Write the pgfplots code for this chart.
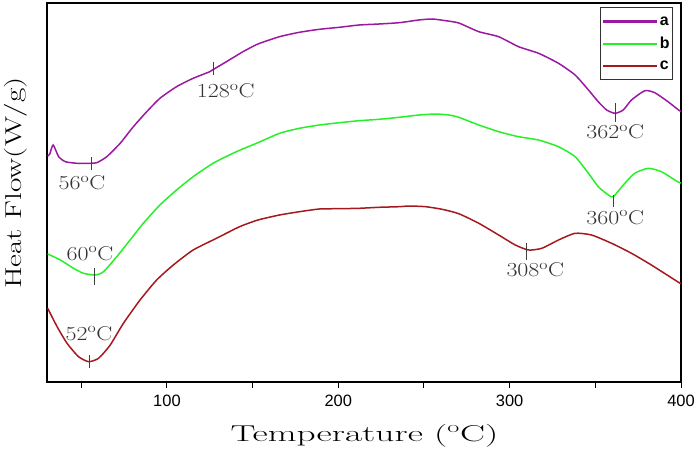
\documentclass[border=0pt]{standalone}
\usepackage{pgfplots}
\pgfplotsset{compat=1.18}
\usepackage{fontspec}
\newfontfamily\arial{Liberation Sans}
\definecolor{ca}{RGB}{155,25,160}
\definecolor{cb}{RGB}{40,240,40}
\definecolor{cc}{RGB}{165,25,30}
\newcommand{\lab}[1]{\scalebox{1.2}[1]{\fontsize{20}{20}\selectfont #1\textsuperscript{o}C}}
\begin{document}
\begin{tikzpicture}
\path[use as bounding box] (-47bp,-71bp) rectangle (653bp,382bp);
\begin{axis}[
  at={(0,0)}, anchor=south west,
  scale only axis, width=634bp, height=379bp,
  clip mode=individual,
  xmin=30, xmax=400, ymin=0, ymax=379,
  xtick={100,200,300,400},
  minor xtick={50,150,250,350},
  ytick=\empty,
  tick align=outside, xtick pos=bottom,
  major tick length=6bp, minor tick length=6bp,
  every tick/.style={black, line width=1bp},
  axis line style={line width=1.2bp},
  /pgf/number format/assume math mode=true,
  xticklabel style={font=\arial\fontsize{16.5}{16.5}\selectfont, yshift=-3bp},
  legend style={at={(0.9874,0.9894)}, anchor=north east,
    draw=black!80, line width=0.9bp, font=\arial\bfseries\fontsize{16}{16}\selectfont,
    inner xsep=1bp, inner ysep=7bp, row sep=6.5bp, column sep=0bp,
    nodes={inner sep=2bp}, cells={anchor=west}},
  legend image code/.code={\draw[sharp plot, #1] (0bp,0bp) -- (54bp,0bp);},
  legend image post style={line width=2bp},
  annot/.style={black!75, line width=0.9bp, forget plot},
]
\addlegendimage{ca}
\addlegendentry{a}
\addlegendimage{cb}
\addlegendentry{b}
\addlegendimage{cc}
\addlegendentry{c}
\addplot[ca, line width=1.5bp, smooth, tension=0.35, forget plot] coordinates {
(30.4,226)(31.6,228)(33.6,237)(36.8,225.3)(40.7,220.3)(47.5,218.7)(55.2,218.7)(59.1,219.3)
(64.9,225.3)(72.7,238.7)(80.4,255.3)(88.2,270.3)(95.9,283.7)(105.6,295.3)(115.3,303.7)
(125,310.3)(127,312.5)(134.7,320.3)(144.4,330.3)(153.1,338)(165.7,345.3)(177.3,349.7)
(189,352.7)(200.6,354.7)(212.2,357)(223.8,358)(235.5,359.3)(247,362)(254.8,363)
(262.6,361.3)(270.3,359)(282,350.3)(293.6,345.3)(305.2,335.3)(316.9,328.7)(328.5,318.7)
(338.2,307)(346,292)(351.7,280.3)(356.6,272)(361.5,268.7)(366.3,272)(371.1,282)
(378.9,291.3)(384.7,289.3)(392.4,280.3)(398.6,272)(400,270.5)
};
\addplot[cb, line width=1.5bp, smooth, tension=0.35, forget plot] coordinates {
(30.4,128)(37.8,122)(45.5,113.7)(51.3,108.7)(58.1,107)(63,110.3)(70.7,125.3)(78.5,142)
(86.2,158.7)(95.9,177)(105.6,192)(115.3,205.3)(126.9,218.7)(140.5,230.3)(153.1,239.3)
(165.7,248.7)(177.3,253.7)(189,257)(200.6,259.3)(212.2,261.3)(223.8,262.7)(235.5,264.7)
(247.1,267)(256.8,268)(264.5,267)(270.3,264.7)(282,257)(293.6,250.3)(305.2,245.3)
(316.9,242)(328.5,235.3)(338.2,225.3)(346,208.7)(351.7,195.3)(357.6,187)(360.5,185.3)
(367.2,198.7)(373,208.7)(380.8,213.7)(388.6,210.3)(398,200.3)(400,199)
};
\addplot[cc, line width=1.5bp, smooth, tension=0.35, forget plot] coordinates {
(30.4,73.7)(35.9,55.3)(41.7,38.7)(48.4,25.3)(54.3,20.3)(60.1,23.7)(66.9,37)(74.6,58.7)
(84.3,82)(94,102)(103.7,117)(115.3,132)(128.9,143.7)(142.4,155.3)(153.1,162)(165.7,167)
(177.3,170.3)(189,173)(200.6,173.3)(212.2,173.7)(223.8,174.7)(235.5,175.3)(241.3,176)
(251,175.3)(260.6,172.7)(270.3,168.3)(282,158.7)(293.6,147)(303.3,137)(311,132)
(318.8,133.7)(328.5,142)(338.2,148.7)(347.8,147)(359.5,138.7)(371.1,128.7)(382.7,117)
(398,100.3)(400,98.5)
};
\addplot[annot] coordinates {(55.8,225)(55.8,212)};
\addplot[annot] coordinates {(127,320)(127,307)};
\addplot[annot] coordinates {(362,279)(362,260)};
\addplot[annot] coordinates {(360.5,187)(360.5,175)};
\addplot[annot] coordinates {(57.7,114)(57.7,97)};
\addplot[annot] coordinates {(54.8,27)(54.8,14)};
\addplot[annot] coordinates {(310,139)(310,122)};
\node[text=black!80] at (axis cs:50.4,199.3) {\lab{56}};
\node[text=black!80] at (axis cs:134.3,291.3) {\lab{128}};
\node[text=black!80] at (axis cs:361.6,250.3) {\lab{362}};
\node[text=black!80] at (axis cs:361.6,164.7) {\lab{360}};
\node[text=black!80] at (axis cs:55.1,128.7) {\lab{60}};
\node[text=black!80] at (axis cs:54.5,48.7) {\lab{52}};
\node[text=black!80] at (axis cs:315,112) {\lab{308}};
\node[anchor=center] at (rel axis cs:0.5008,-0.1425)
  {\scalebox{1.63}[1]{\fontsize{23}{23}\selectfont Temperature (\textsuperscript{o}C)}};
\node[anchor=center, rotate=90] at (rel axis cs:-0.049,0.525)
  {\scalebox{1.37}[1]{\fontsize{23}{23}\selectfont Heat Flow(W/g)}};
\end{axis}
\end{tikzpicture}
\end{document}
